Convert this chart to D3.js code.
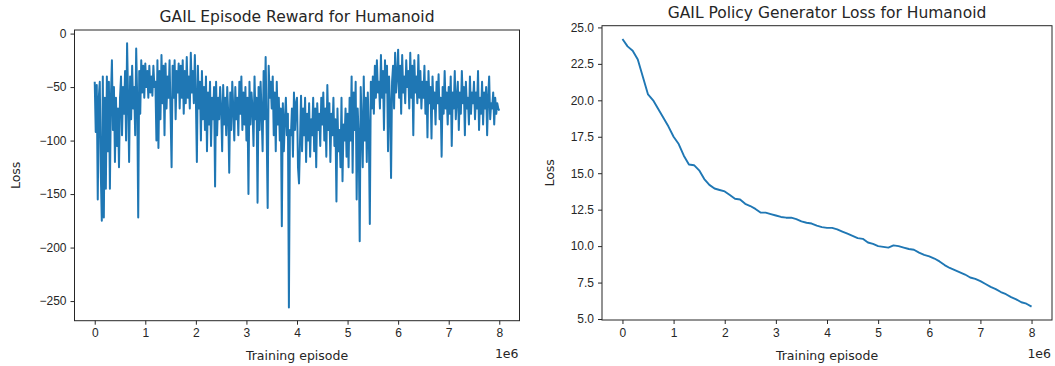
<!DOCTYPE html>
<html>
<head>
<meta charset="utf-8">
<script src="https://cdn.jsdelivr.net/npm/d3@7"></script>
<style>
  html, body { margin: 0; padding: 0; background: #fff; }
  svg { display: block; font-family: "DejaVu Sans", sans-serif; }
  .axis text { fill: #262626; font-size: 12px; }
  .axis path, .axis line { stroke: #262626; }
  .title { fill: #262626; font-size: 15.5px; }
  .label { fill: #262626; font-size: 12.5px; }
</style>
</head>
<body>
<div id="chart"></div>
<script>
// Episode reward, 401 samples evenly spaced from 0 to 8e6 episodes
const rewardValues = [
  -45, -92, -48, -155, -60, -45, -130, -175, -40, -172, -60, -145, -40, -110, -45, -145, -60, -25, -90, -50, -120, -60, -105, -70, -125,
  -60, -40, -95, -50, -75, -35, -100, -9, -60, -120, -40, -80, -30, -70, -50, -95, -14, -60, -172, -35, -75, -25, -55, -30, -60,
  -28, -50, -35, -60, -30, -55, -40, -58, -30, -50, -45, -100, -25, -107, -35, -80, -20, -65, -30, -95, -28, -70, -40, -60, -25,
  -75, -125, -30, -60, -25, -80, -35, -55, -28, -70, -30, -60, -25, -75, -35, -65, -22, -60, -40, -70, -18, -55, -35, -65, -20,
  -60, -120, -30, -70, -45, -100, -35, -80, -50, -90, -40, -110, -55, -85, -45, -105, -60, -80, -50, -143, -45, -95, -60, -80, -50,
  -70, -110, -48, -85, -60, -95, -50, -75, -130, -55, -90, -45, -70, -100, -50, -80, -60, -95, -45, -75, -40, -90, -55, -85, -50,
  -100, -60, -150, -45, -85, -55, -70, -105, -40, -80, -60, -158, -50, -90, -45, -75, -110, -35, -80, -22, -90, -163, -30, -60, -45,
  -70, -40, -95, -55, -110, -45, -85, -60, -100, -70, -180, -65, -110, -80, -60, -95, -75, -256, -90, -95, -70, -115, -55, -90, -65,
  -60, -125, -140, -100, -58, -110, -70, -95, -60, -120, -75, -100, -65, -115, -80, -95, -60, -110, -70, -125, -65, -90, -75, -105, -60,
  -85, -55, -100, -70, -115, -48, -90, -65, -120, -75, -95, -60, -105, -80, -157, -70, -110, -90, -125, -60, -138, -85, -100, -70, -115,
  -75, -125, -60, -100, -40, -130, -55, -90, -45, -155, -70, -95, -194, -50, -85, -125, -40, -100, -60, -120, -55, -90, -178, -45, -70,
  -40, -75, -30, -60, -25, -55, -45, -70, -20, -60, -35, -90, -25, -55, -30, -110, -40, -65, -135, -45, -30, -70, -18, -55, -40,
  -15, -60, -30, -75, -20, -55, -40, -65, -25, -50, -35, -70, -18, -60, -30, -95, -25, -55, -40, -65, -20, -60, -35, -70, -45,
  -60, -30, -75, -45, -97, -35, -65, -50, -98, -40, -70, -55, -85, -45, -65, -38, -80, -60, -115, -50, -75, -35, -70, -55, -85,
  -50, -75, -40, -105, -55, -70, -35, -80, -60, -45, -90, -55, -75, -35, -65, -50, -95, -45, -70, -60, -85, -40, -75, -55, -65,
  -45, -80, -55, -70, -35, -90, -60, -75, -45, -85, -55, -70, -50, -95, -60, -40, -80, -65, -70, -55, -85, -60, -75, -65, -70,
  -72
];

// Policy generator loss, 81 samples evenly spaced from 0 to 8e6 episodes
const lossValues = [
  24.2, 23.7, 23.4, 22.8, 21.6, 20.4, 20.0, 19.4, 18.8, 18.2,
  17.5, 17.0, 16.2, 15.6, 15.55, 15.2, 14.6, 14.2, 13.95, 13.85,
  13.75, 13.5, 13.25, 13.2, 12.9, 12.75, 12.55, 12.3, 12.3, 12.2,
  12.1, 12.0, 11.95, 11.95, 11.85, 11.7, 11.6, 11.55, 11.4, 11.3,
  11.25, 11.25, 11.15, 11.0, 10.85, 10.7, 10.55, 10.5, 10.25, 10.15,
  10.0, 9.95, 9.9, 10.05, 10.0, 9.9, 9.8, 9.75, 9.55, 9.4,
  9.3, 9.15, 8.95, 8.7, 8.5, 8.35, 8.2, 8.05, 7.85, 7.75,
  7.6, 7.4, 7.2, 7.05, 6.85, 6.7, 6.5, 6.35, 6.15, 6.05,
  5.85
];

const xTicks = [0, 1e6, 2e6, 3e6, 4e6, 5e6, 6e6, 7e6, 8e6];
const rewardTicks = [0, -50, -100, -150, -200, -250];
const lossTicks = [5, 7.5, 10, 12.5, 15, 17.5, 20, 22.5, 25];

const MAX_EPISODE = 8e6;
const LINE_COLOR = '#1f77b4';

function toSeries(values) {
  const step = MAX_EPISODE / (values.length - 1);
  return values.map((v, i) => ({ episode: i * step, value: v }));
}

// matplotlib-style 5% autoscale margin
function padded(extent) {
  const pad = (extent[1] - extent[0]) * 0.05;
  return [extent[0] - pad, extent[1] + pad];
}

const panels = [
  {
    title: 'GAIL Episode Reward for Humanoid',
    series: toSeries(rewardValues),
    yTicks: rewardTicks,
    yFormat: d3.format('d'),
    box: { left: 74.5, right: 519.5, top: 30, bottom: 320.7 },
    yLabelX: 20,
    lineWidth: 2,
  },
  {
    title: 'GAIL Policy Generator Loss for Humanoid',
    series: toSeries(lossValues),
    yTicks: lossTicks,
    yFormat: d3.format('.1f'),
    box: { left: 602, right: 1052, top: 25.7, bottom: 320 },
    yLabelX: 554,
    lineWidth: 1.9,
  },
];

const svg = d3.select('#chart').append('svg').attr('width', 1055).attr('height', 366);

panels.forEach((p) => {
  const b = p.box;
  const x = d3.scaleLinear().domain(padded([0, MAX_EPISODE])).range([b.left, b.right]);
  const y = d3.scaleLinear().domain(padded(d3.extent(p.series, (d) => d.value))).range([b.bottom, b.top]);

  svg.append('g')
    .attr('class', 'axis')
    .attr('transform', `translate(0,${b.bottom})`)
    .call(d3.axisBottom(x).tickValues(xTicks).tickFormat((d) => d / 1e6).tickSize(4).tickPadding(4).tickSizeOuter(0))
    .call((g) => g.select('.domain').remove());

  svg.append('g')
    .attr('class', 'axis')
    .attr('transform', `translate(${b.left},0)`)
    .call(d3.axisLeft(y).tickValues(p.yTicks).tickFormat(p.yFormat).tickSize(4).tickPadding(4).tickSizeOuter(0))
    .call((g) => g.select('.domain').remove());

  svg.append('path')
    .datum(p.series)
    .attr('fill', 'none')
    .attr('stroke', LINE_COLOR)
    .attr('stroke-width', p.lineWidth)
    .attr('stroke-linejoin', 'round')
    .attr('d', d3.line().x((d) => x(d.episode)).y((d) => y(d.value)));

  svg.append('rect')
    .attr('x', b.left)
    .attr('y', b.top)
    .attr('width', b.right - b.left)
    .attr('height', b.bottom - b.top)
    .attr('fill', 'none')
    .attr('stroke', '#262626')
    .attr('stroke-width', 1);

  svg.append('text')
    .attr('class', 'title')
    .attr('x', (b.left + b.right) / 2)
    .attr('y', b.top - 8)
    .attr('text-anchor', 'middle')
    .text(p.title);

  svg.append('text')
    .attr('class', 'label')
    .attr('x', (b.left + b.right) / 2)
    .attr('y', 360)
    .attr('text-anchor', 'middle')
    .text('Training episode');

  svg.append('text')
    .attr('class', 'label')
    .attr('x', b.right - 1)
    .attr('y', 358)
    .attr('text-anchor', 'end')
    .text('1e6');

  svg.append('text')
    .attr('class', 'label')
    .attr('transform', `translate(${p.yLabelX},${(b.top + b.bottom) / 2}) rotate(-90)`)
    .attr('text-anchor', 'middle')
    .text('Loss');
});
</script>
</body>
</html>
